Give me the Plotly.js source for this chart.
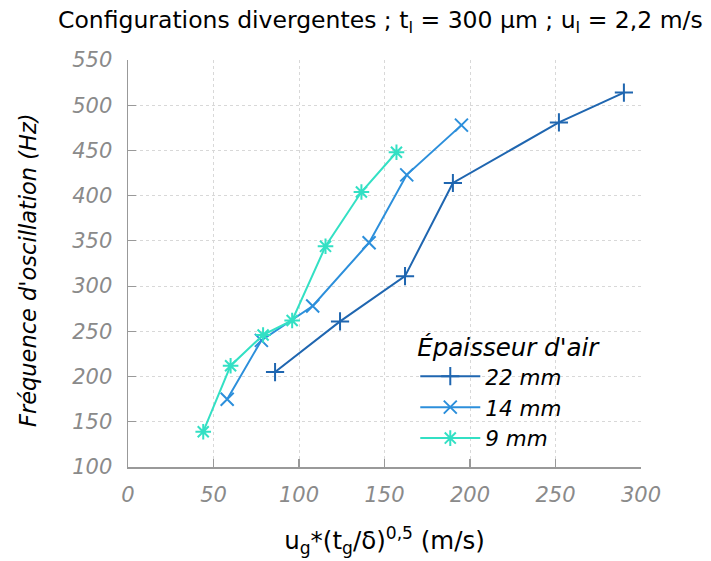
<!DOCTYPE html>
<html>
<head>
<meta charset="utf-8">
<script src="https://cdn.plot.ly/plotly-3.0.1.min.js"></script>
<style>html,body{margin:0;padding:0;background:#fff;}#chart{width:711px;height:561px;}</style>
</head>
<body>
<div id="chart"></div>
<script>
// Data
const seriesNames = ["22 mm", "14 mm", "9 mm"];
const x22 = [86, 124, 162, 190, 252, 290];
const y22 = [205, 261, 311, 414, 481, 514];
const x14 = [58, 78, 108, 141, 163, 195];
const y14 = [175, 240, 278, 348, 423, 478];
const x9 = [44, 60, 79, 96, 115.5, 136.5, 157];
const y9 = [139, 212, 246, 262, 344, 404, 448];
const xTicks = [0, 50, 100, 150, 200, 250, 300];
const yTicks = [100, 150, 200, 250, 300, 350, 400, 450, 500, 550];

const colors = ["#1f66b0", "#2c8fdb", "#33e0c4"];
const symbols = ["cross-thin", "x-thin", "asterisk-open"];
const xs = [x22, x14, x9];
const ys = [y22, y14, y9];

const FONT = "DejaVu Sans, Verdana, sans-serif";
const traces = seriesNames.map((name, i) => ({
  type: "scatter",
  mode: "lines+markers",
  name: name,
  x: xs[i],
  y: ys[i],
  line: {color: colors[i], width: 2},
  marker: {symbol: symbols[i], size: 13, color: colors[i], line: {color: colors[i], width: 2}}
}));

const layout = {
  width: 711, height: 561,
  margin: {l: 128, r: 70, t: 60, b: 94},
  paper_bgcolor: "#fff", plot_bgcolor: "#fff",
  font: {family: FONT, color: "#000"},
  title: {
    text: "Configurations divergentes ; t<sub>l</sub> = 300 µm ; u<sub>l</sub> = 2,2 m/s",
    font: {size: 23.5, color: "#000", family: FONT},
    x: 0.535, xanchor: "center", y: 0.965, yanchor: "middle"
  },
  xaxis: {
    range: [0, 300],
    tickvals: xTicks,
    ticktext: xTicks.map(String),
    ticks: "inside", ticklen: 8, tickcolor: "#999", tickwidth: 1.2,
    ticklabelstandoff: 8,
    showline: true, linecolor: "#999", linewidth: 1.5,
    showgrid: true, gridcolor: "#d8d8d8", griddash: "dot", gridwidth: 1,
    zeroline: false,
    tickfont: {size: 21, color: "#8a8a8a", style: "italic", family: FONT},
    title: {text: "u<sub>g</sub>*(t<sub>g</sub>/δ)<sup>0,5</sup> (m/s)", font: {size: 24.5, color: "#000", family: FONT}, standoff: 26}
  },
  yaxis: {
    range: [100, 550],
    tickvals: yTicks,
    ticktext: yTicks.map(String),
    ticks: "inside", ticklen: 8, tickcolor: "#999", tickwidth: 1.2,
    ticklabelstandoff: 10,
    showline: true, linecolor: "#999", linewidth: 1.5,
    showgrid: true, gridcolor: "#d8d8d8", griddash: "dot", gridwidth: 1,
    zeroline: false,
    tickfont: {size: 21, color: "#8a8a8a", style: "italic", family: FONT}
  },
  annotations: [{
    text: "Fréquence d'oscillation (Hz)",
    textangle: -90,
    xref: "paper", yref: "paper",
    x: -0.195, y: 0.484, xanchor: "center", yanchor: "middle",
    showarrow: false,
    font: {size: 22.5, color: "#000", style: "italic", family: FONT}
  }],
  showlegend: true,
  legend: {
    x: 0.56, xanchor: "left", y: 0.02, yanchor: "bottom",
    bgcolor: "rgba(255,255,255,0)",
    font: {size: 21.5, color: "#000", style: "italic", family: FONT},
    title: {text: "Épaisseur d'air", font: {size: 24.5, color: "#000", style: "italic", family: FONT}, side: "top"},
    tracegroupgap: 0,
    itemwidth: 60
  }
};

Plotly.newPlot("chart", traces, layout, {displayModeBar: false, staticPlot: true});
</script>
</body>
</html>
